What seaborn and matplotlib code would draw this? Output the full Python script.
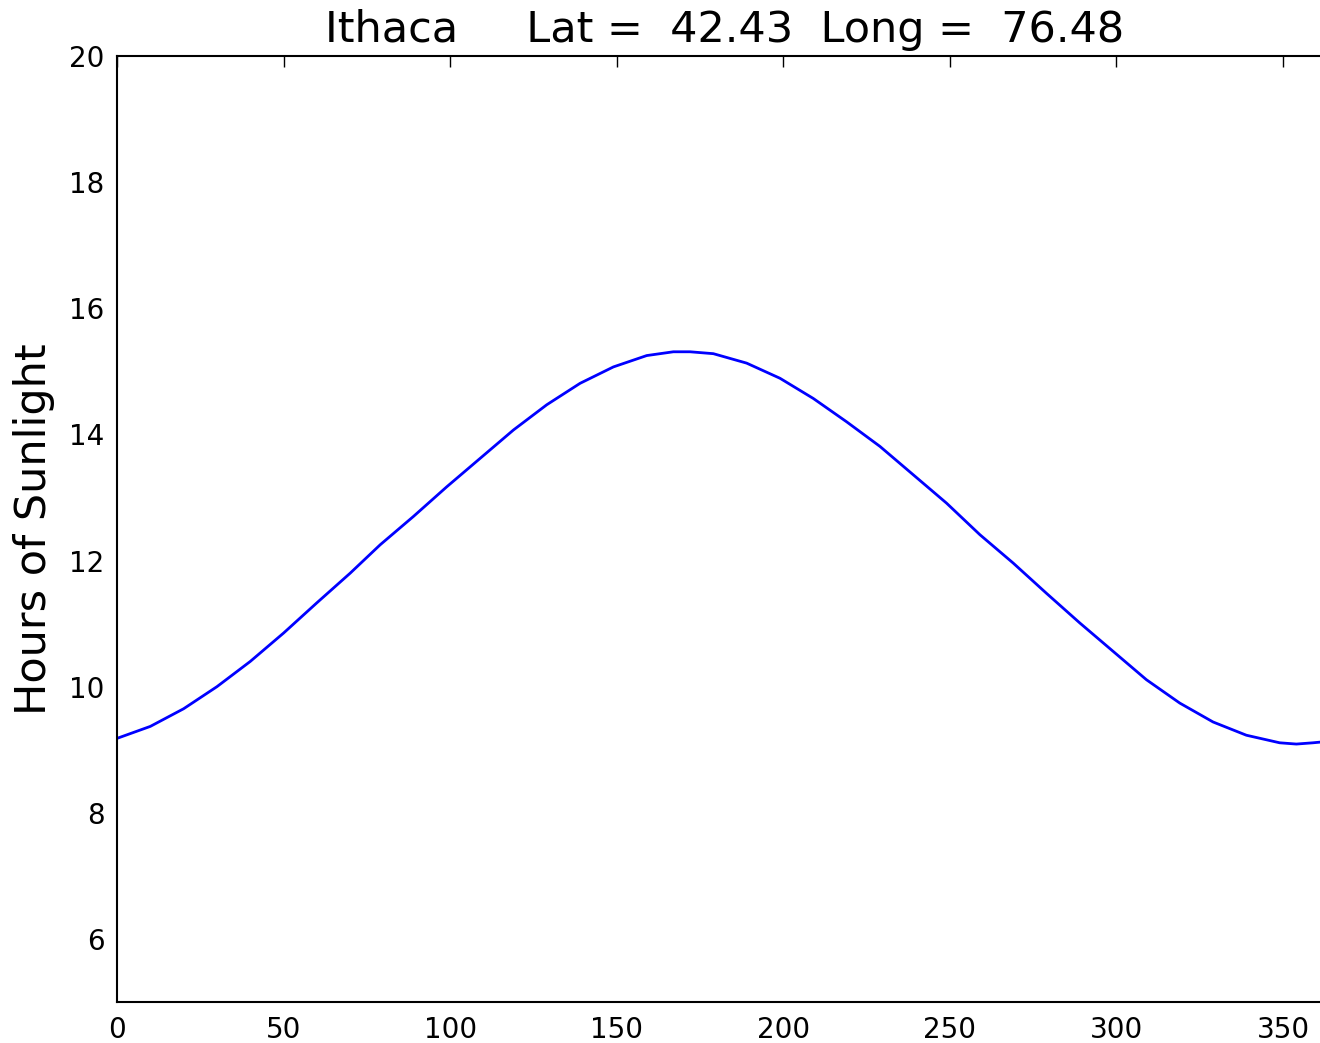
import matplotlib
matplotlib.use("Agg")
import matplotlib.pyplot as plt
import seaborn as sns
import pandas as pd

# Day of year vs hours of sunlight
days = [0, 10, 20, 30, 40, 50, 60, 70, 79, 89, 99, 109, 119, 129, 139, 149,
        159, 167, 172, 179, 189, 199, 209, 219, 229, 239, 249, 259, 269, 279,
        289, 299, 309, 319, 329, 339, 349, 354, 359, 365]
hours = [9.18, 9.37, 9.65, 10.00, 10.40, 10.85, 11.33, 11.80, 12.25, 12.70,
         13.17, 13.62, 14.07, 14.47, 14.81, 15.07, 15.25, 15.31, 15.31, 15.28,
         15.13, 14.89, 14.57, 14.20, 13.81, 13.36, 12.91, 12.41, 11.96, 11.48,
         11.01, 10.56, 10.11, 9.74, 9.44, 9.23, 9.11, 9.09, 9.11, 9.14]

title_text = "Ithaca     Lat =  42.43  Long =  76.48"
ylabel_text = "Hours of Sunlight"
xticks = [0, 50, 100, 150, 200, 250, 300, 350]
yticks = [6, 8, 10, 12, 14, 16, 18, 20]

sns.set_style("white")
plt.rcParams["font.family"] = ["DejaVu Sans"]
plt.rcParams["text.color"] = "black"
plt.rcParams["axes.labelcolor"] = "black"

df = pd.DataFrame({"day": days, "hours": hours})

W, H = 1320, 1043
fig = plt.figure(figsize=(W / 100, H / 100), dpi=100)
left, right, top, bottom = 117, 1333, 56, 1002
ax = fig.add_axes([left / W, (H - bottom) / H, (right - left) / W, (bottom - top) / H])

sns.lineplot(data=df, x="day", y="hours", ax=ax, color="#0000ff", linewidth=2)

ax.set_xlim(0, 365)
ax.set_ylim(5, 20)
ax.set_xticks(xticks)
ax.set_yticks(yticks)
ax.set_xlabel("")
ax.set_ylabel(ylabel_text, fontsize=31, labelpad=10.5, color="black")
ax.set_title(title_text, fontsize=31, pad=10, color="black")

for s in ax.spines.values():
    s.set_visible(True)
    s.set_color("black")
    s.set_linewidth(1.5)

ax.tick_params(axis="both", which="major", direction="in", length=8, width=1,
               top=True, right=True, labelsize=20, pad=9, colors="black")
ax.tick_params(axis="x", pad=10)

fig.savefig("out.png", dpi=100)
